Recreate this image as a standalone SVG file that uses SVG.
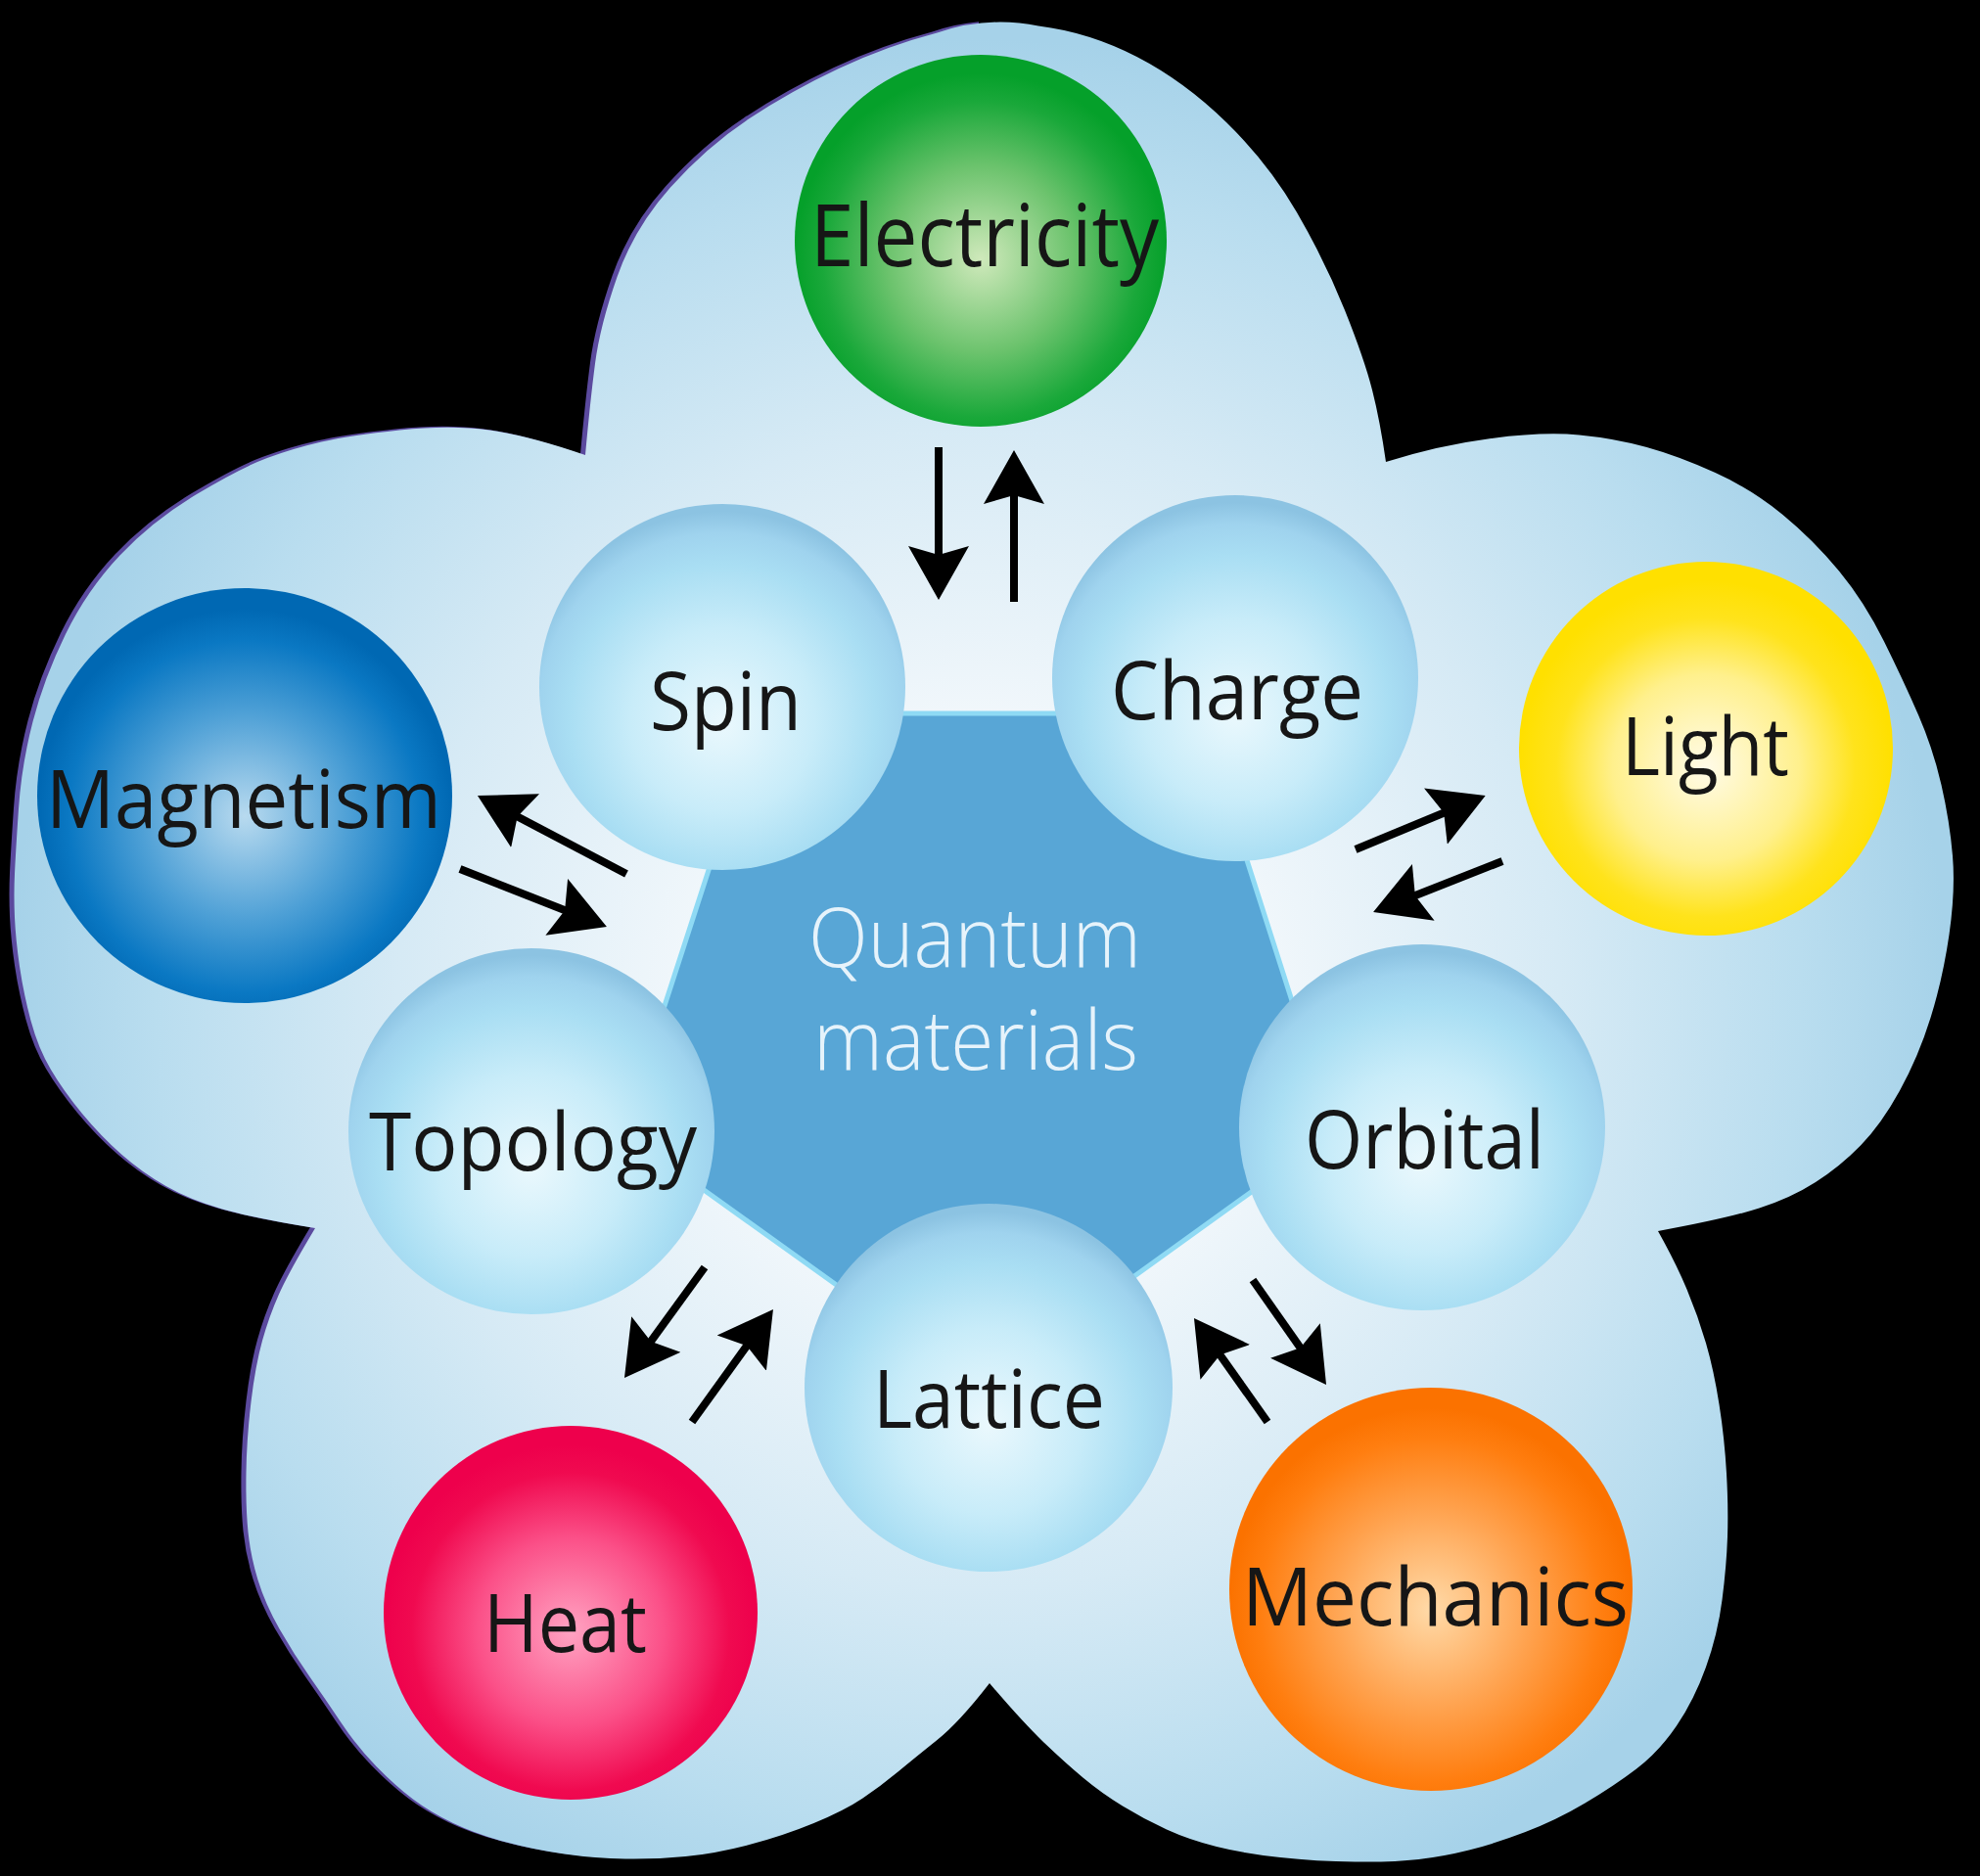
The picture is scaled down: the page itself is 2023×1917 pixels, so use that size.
<svg xmlns="http://www.w3.org/2000/svg" width="2023" height="1917" viewBox="0 0 2023 1917">
<defs>
<style>
.lbl{font-family:"Open Sans","Noto Sans","DejaVu Sans",sans-serif;font-size:82px;fill:#161616;}
.qm{font-family:"Open Sans","Noto Sans","DejaVu Sans",sans-serif;font-size:84px;font-weight:300;fill:#e6f3fb;}
.inner{fill:url(#gInner);}
.arr{stroke:#000;stroke-width:8;fill:none;marker-end:url(#ah);}
</style>
<clipPath id="leftHalf"><rect x="0" y="0" width="1000" height="1917"/></clipPath>
<radialGradient id="gFlower" gradientUnits="userSpaceOnUse" cx="1000" cy="1030" r="990">
<stop offset="0" stop-color="#ffffff"/>
<stop offset="0.3" stop-color="#f1f7fb"/>
<stop offset="0.6" stop-color="#d6eaf5"/>
<stop offset="0.85" stop-color="#b9ddef"/>
<stop offset="1" stop-color="#a6d2e9"/>
</radialGradient>
<radialGradient id="gInner" cx="0.5" cy="0.58" r="0.56" fx="0.5" fy="0.6">
<stop offset="0" stop-color="#eaf8fd"/>
<stop offset="0.45" stop-color="#c8ecf9"/>
<stop offset="0.75" stop-color="#a9def3"/>
<stop offset="0.9" stop-color="#9fd3ee"/>
<stop offset="1" stop-color="#8cc3e2"/>
</radialGradient>
<radialGradient id="gGreen" cx="0.5" cy="0.55" r="0.5">
<stop offset="0" stop-color="#cfe9bb"/>
<stop offset="0.5" stop-color="#6cc36d"/>
<stop offset="0.85" stop-color="#1aa83a"/>
<stop offset="1" stop-color="#05a02a"/>
</radialGradient>
<radialGradient id="gYellow" cx="0.5" cy="0.55" r="0.5">
<stop offset="0" stop-color="#fffbe8"/>
<stop offset="0.5" stop-color="#fff08c"/>
<stop offset="0.8" stop-color="#ffe31c"/>
<stop offset="1" stop-color="#ffe000"/>
</radialGradient>
<radialGradient id="gBlue" cx="0.5" cy="0.55" r="0.5">
<stop offset="0" stop-color="#b8daef"/>
<stop offset="0.5" stop-color="#4ea0d6"/>
<stop offset="0.85" stop-color="#0a78c3"/>
<stop offset="1" stop-color="#0068b3"/>
</radialGradient>
<radialGradient id="gRed" cx="0.5" cy="0.55" r="0.5">
<stop offset="0" stop-color="#ffa3c2"/>
<stop offset="0.5" stop-color="#fb5088"/>
<stop offset="0.85" stop-color="#f00a50"/>
<stop offset="1" stop-color="#ee004c"/>
</radialGradient>
<radialGradient id="gOrange" cx="0.5" cy="0.55" r="0.5">
<stop offset="0" stop-color="#ffdaa8"/>
<stop offset="0.5" stop-color="#ffa24e"/>
<stop offset="0.85" stop-color="#ff7e10"/>
<stop offset="1" stop-color="#fb7200"/>
</radialGradient>
<marker id="ah" viewBox="0 -35 60 70" markerWidth="60" markerHeight="70" refX="25" refY="0" orient="auto" markerUnits="userSpaceOnUse">
<path d="M55,0 L0,-31 L9,0 L0,31 Z" fill="#000"/>
</marker>
<path id="flowerShape" d="M598,465 Q603,410 608,371.5 Q613,333 630.5,283 Q648,233 685,191.5 Q722,150 765,121.5 Q808,93 857,70 Q906,47 957.5,33.5 Q1009,16 1061,26.5 Q1113,33 1161.5,58 Q1210,83 1253,125 Q1296,167 1325,217 Q1354,267 1374,317 Q1394,367 1402,398.5 Q1410,430 1416,472 Q1470,455 1523.5,448 Q1577,441 1613.5,444.5 Q1650,448 1682.5,457 Q1715,466 1752.5,483 Q1790,500 1821.5,526 Q1853,552 1879,583.5 Q1905,615 1925,655.5 Q1945,696 1960,730.5 Q1975,765 1983.5,802 Q1992,839 1995,874.5 Q1998,910 1991.5,955 Q1985,1000 1972.5,1040 Q1960,1080 1941,1114.5 Q1922,1149 1901,1170.5 Q1880,1192 1855,1208 Q1830,1224 1797.5,1234.5 Q1765,1245 1694,1258 Q1712,1290 1723.5,1317.5 Q1735,1345 1743,1372.5 Q1751,1400 1756.5,1435 Q1762,1470 1764,1505.5 Q1766,1541 1765,1570.5 Q1764,1600 1759.5,1635 Q1755,1670 1743,1703.5 Q1731,1737 1713,1763.5 Q1695,1790 1672,1807.5 Q1649,1825 1619.5,1842.5 Q1590,1860 1558.5,1872 Q1527,1884 1501,1890.5 Q1475,1897 1449.5,1900 Q1424,1903 1384.5,1902.5 Q1345,1902 1308,1898 Q1271,1894 1243,1887 Q1215,1880 1192,1869.5 Q1169,1859 1147,1845.5 Q1125,1832 1106.5,1816.5 Q1088,1801 1066.5,1780.5 Q1045,1760 1011,1720 Q980,1760 957.5,1778 Q935,1796 917.5,1810.5 Q900,1825 881.5,1837.5 Q863,1850 831.5,1863 Q800,1876 765.5,1885 Q731,1894 700.5,1897 Q670,1900 639,1899.5 Q608,1899 576.5,1894.5 Q545,1890 515.5,1882 Q486,1874 463,1863 Q440,1852 422,1838.5 Q404,1825 384.5,1805 Q365,1785 349,1761 Q333,1737 316.5,1713.5 Q300,1690 285.5,1664.5 Q271,1639 263.5,1614.5 Q256,1590 253.5,1565.5 Q251,1541 251.5,1505.5 Q252,1470 256.5,1432.5 Q261,1395 268,1370 Q275,1345 285,1322.5 Q295,1300 322,1255 Q260,1245 227,1235.5 Q194,1226 169.5,1212 Q145,1198 124,1179.5 Q103,1161 84,1138 Q65,1115 52,1093 Q39,1071 31.5,1043 Q24,1015 20,987.5 Q16,960 15,937.5 Q14,915 15,893 Q16,871 19,826.5 Q22,782 33.5,737.5 Q45,693 67,648 Q89,603 122.5,567.5 Q156,532 201,505 Q246,478 273,468 Q300,458 328.5,451.5 Q357,445 408.5,439.5 Q460,434 500,439.5 Q540,445 598,465 Z"/>
</defs>
<rect x="0" y="0" width="2023" height="1917" fill="#000"/>
<g id="background">
<g clip-path="url(#leftHalf)"><use href="#flowerShape" transform="translate(-5,-1)" fill="#5b4a9e"/></g>
<use href="#flowerShape" fill="url(#gFlower)"/>
</g>
<g id="quantum-materials">
<polygon points="776,729 1226,729 1363,1157 1001,1418 637,1157" fill="#58a6d6" stroke="#8fdaf4" stroke-width="5" stroke-linejoin="miter"/>
<text class="qm" x="826" y="988" textLength="340" lengthAdjust="spacingAndGlyphs">Quantum</text>
<text class="qm" x="831" y="1093" textLength="332" lengthAdjust="spacingAndGlyphs">materials</text>
</g>
<g id="spin"><circle class="inner" cx="738" cy="702" r="187"/><text class="lbl" x="664" y="746" textLength="155" lengthAdjust="spacingAndGlyphs">Spin</text></g>
<g id="charge"><circle class="inner" cx="1262" cy="693" r="187"/><text class="lbl" x="1135" y="735" textLength="258" lengthAdjust="spacingAndGlyphs">Charge</text></g>
<g id="orbital"><circle class="inner" cx="1453" cy="1152" r="187"/><text class="lbl" x="1333" y="1194" textLength="245" lengthAdjust="spacingAndGlyphs">Orbital</text></g>
<g id="lattice"><circle class="inner" cx="1010" cy="1418" r="188"/><text class="lbl" x="892" y="1459" textLength="237" lengthAdjust="spacingAndGlyphs">Lattice</text></g>
<g id="topology"><circle class="inner" cx="543" cy="1156" r="187"/><text class="lbl" x="377" y="1196" textLength="335" lengthAdjust="spacingAndGlyphs">Topology</text></g>
<g id="electricity"><circle cx="1002" cy="246" r="190" fill="url(#gGreen)"/><text class="lbl" x="828" y="272" textLength="356" lengthAdjust="spacingAndGlyphs" style="font-size:88px">Electricity</text></g>
<g id="light"><circle cx="1743" cy="765" r="191" fill="url(#gYellow)"/><text class="lbl" x="1657" y="792" textLength="171" lengthAdjust="spacingAndGlyphs">Light</text></g>
<g id="mechanics"><circle cx="1462" cy="1624" r="206" fill="url(#gOrange)"/><text class="lbl" x="1269" y="1661" textLength="395" lengthAdjust="spacingAndGlyphs">Mechanics</text></g>
<g id="heat"><circle cx="583" cy="1648" r="191" fill="url(#gRed)"/><text class="lbl" x="494" y="1688" textLength="167" lengthAdjust="spacingAndGlyphs">Heat</text></g>
<g id="magnetism"><circle cx="250" cy="813" r="212" fill="url(#gBlue)"/><text class="lbl" x="47" y="846" textLength="404" lengthAdjust="spacingAndGlyphs">Magnetism</text></g>
<g id="connectors">
<line class="arr" x1="959" y1="457" x2="959" y2="583"/>
<line class="arr" x1="1036" y1="615" x2="1036" y2="490"/>
<line class="arr" x1="640" y1="893" x2="514.5" y2="827"/>
<line class="arr" x1="470" y1="888" x2="592" y2="936"/>
<line class="arr" x1="1385" y1="868" x2="1490" y2="824.5"/>
<line class="arr" x1="1535" y1="880" x2="1431" y2="921"/>
<line class="arr" x1="720" y1="1295" x2="655.6" y2="1383.7"/>
<line class="arr" x1="707" y1="1453" x2="772.4" y2="1362.3"/>
<line class="arr" x1="1295" y1="1453" x2="1237.3" y2="1371.5"/>
<line class="arr" x1="1280" y1="1308" x2="1337.8" y2="1390.4"/>
</g>
</svg>
